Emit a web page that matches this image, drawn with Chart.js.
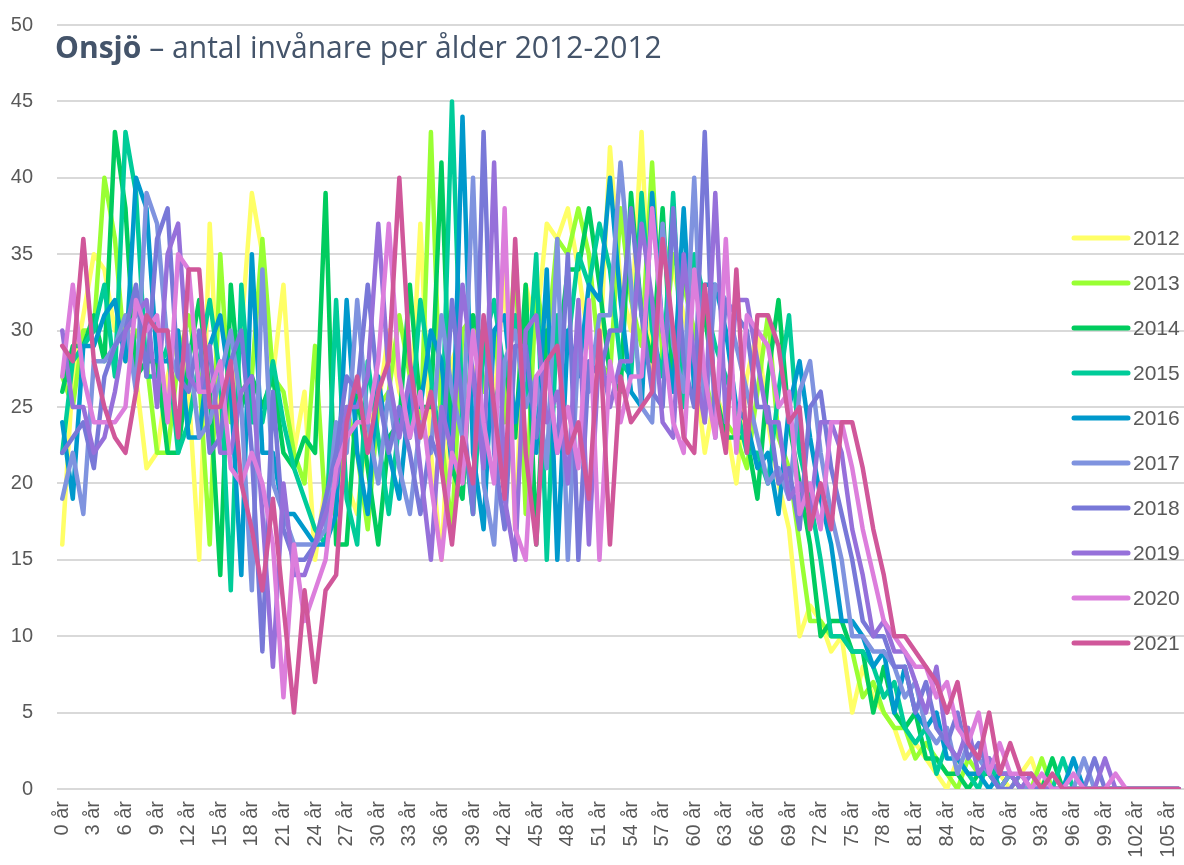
<!DOCTYPE html>
<html lang="sv">
<head>
<meta charset="utf-8">
<title>Onsjö – antal invånare per ålder</title>
<script src="https://cdn.jsdelivr.net/npm/chart.js@4.4.1/dist/chart.umd.min.js"></script>
<style>
    html, body { margin: 0; padding: 0; background: #ffffff; }
    #chartWrap { width: 1184px; height: 865px; }
    #populationChart { display: block; }
</style>
</head>
<body>
<div id="chartWrap"><canvas id="populationChart" width="1184" height="865"></canvas></div>
<script>
const years = ['2012', '2013', '2014', '2015', '2016', '2017', '2018', '2019', '2020', '2021'];
const lineColors = ['#FFFF66', '#99FF33', '#00CC5E', '#00CC99', '#0099CC', '#7F93DF', '#7878D8', '#9670DA', '#DC7EDC', '#D0579A'];
const ages = Array.from({ length: 107 }, (_, i) => i + ' år');
const yTicks = [0, 5, 10, 15, 20, 25, 30, 35, 40, 45, 50];

// antal invånare per ålder (0 år ... 106 år)
const pop2012 = [
    16, 27, 31, 35, 34, 30, 31, 27, 21, 22,
    27, 30, 26, 15, 37, 23, 25, 30, 39, 35,
    27, 33, 22, 26, 15, 20, 22, 20, 18, 24,
    25, 30, 26, 24, 37, 22, 15, 28, 30, 27,
    29, 25, 34, 17, 33, 30, 37, 36, 38, 34,
    29, 28, 42, 33, 30, 43, 27, 36, 34, 31,
    28, 22, 26, 24, 20, 27, 30, 24, 20, 17,
    10, 12, 11, 9, 10, 5, 8, 6, 5, 4,
    2, 3, 2, 1, 0, 2, 1, 1, 1, 1,
    0, 1, 2, 0, 0, 0, 0, 0, 0, 0,
    0, 0, 0, 0, 0, 0, 0
];
const pop2013 = [
    27, 25, 30, 30, 40, 36, 28, 30, 28, 22,
    22, 28, 31, 27, 16, 35, 24, 26, 27, 36,
    27, 26, 22, 20, 29, 18, 19, 25, 22, 17,
    25, 26, 31, 27, 23, 43, 23, 17, 30, 31,
    26, 30, 24, 35, 18, 33, 29, 36, 35, 38,
    35, 28, 27, 38, 32, 29, 41, 28, 35, 33,
    30, 27, 24, 24, 23, 21, 26, 31, 23, 21,
    16, 11, 11, 10, 10, 9, 6, 7, 5, 4,
    4, 2, 3, 2, 1, 0, 2, 1, 1, 0,
    1, 0, 0, 2, 0, 0, 0, 0, 0, 0,
    0, 0, 0, 0, 0, 0, 0
];
const pop2014 = [
    26, 29, 29, 31, 28, 43, 38, 27, 28, 28,
    22, 22, 28, 32, 26, 14, 33, 25, 27, 25,
    27, 22, 21, 23, 22, 39, 16, 16, 26, 21,
    16, 23, 24, 33, 25, 25, 41, 21, 19, 31,
    29, 25, 28, 23, 33, 16, 30, 28, 34, 34,
    38, 33, 27, 26, 39, 31, 28, 38, 26, 34,
    34, 31, 26, 23, 23, 23, 19, 27, 32, 24,
    20, 16, 10, 11, 11, 9, 9, 5, 8, 5,
    4, 5, 2, 2, 1, 1, 0, 1, 1, 0,
    1, 0, 0, 0, 2, 0, 0, 0, 0, 0,
    0, 0, 0, 0, 0, 0, 0
];
const pop2015 = [
    22, 28, 29, 30, 33, 27, 43, 39, 27, 27,
    29, 22, 24, 28, 32, 27, 13, 33, 24, 24,
    28, 24, 21, 19, 17, 16, 32, 19, 16, 28,
    23, 18, 24, 23, 32, 27, 22, 45, 24, 18,
    29, 32, 27, 31, 25, 35, 15, 31, 29, 35,
    33, 37, 34, 28, 27, 39, 30, 27, 39, 25,
    35, 32, 29, 27, 25, 22, 22, 20, 26, 31,
    22, 19, 15, 10, 10, 9, 9, 8, 6, 7,
    4, 3, 4, 1, 3, 2, 1, 0, 2, 0,
    1, 0, 0, 0, 0, 2, 0, 0, 0, 0,
    0, 0, 0, 0, 0, 0, 0
];
const pop2016 = [
    24, 19, 29, 29, 31, 32, 28, 40, 38, 28,
    28, 30, 23, 23, 29, 31, 26, 14, 35, 22,
    22, 18, 18, 17, 16, 16, 18, 32, 22, 18,
    27, 22, 19, 26, 25, 30, 28, 21, 44, 22,
    17, 30, 31, 24, 29, 22, 34, 15, 30, 27,
    33, 32, 40, 32, 26, 25, 39, 30, 26, 38,
    26, 33, 33, 30, 25, 24, 21, 22, 18, 25,
    28, 23, 19, 16, 11, 11, 10, 8, 9, 5,
    8, 5, 4, 5, 2, 2, 1, 1, 0, 1,
    1, 0, 0, 0, 0, 0, 2, 0, 0, 0,
    0, 0, 0, 0, 0, 0, 0
];
const pop2017 = [
    19, 22, 18, 28, 28, 29, 31, 26, 39, 37,
    29, 27, 29, 23, 24, 27, 30, 25, 13, 34,
    20, 18, 16, 16, 16, 17, 24, 22, 32, 24,
    20, 26, 21, 18, 24, 22, 31, 26, 23, 40,
    20, 16, 28, 30, 25, 27, 21, 36, 15, 29,
    26, 31, 31, 41, 33, 25, 24, 37, 29, 26,
    40, 24, 33, 32, 29, 26, 23, 20, 21, 19,
    26, 28, 22, 18, 15, 10, 10, 9, 9, 8,
    6, 7, 4, 3, 4, 1, 3, 2, 1, 0,
    1, 0, 0, 0, 0, 0, 0, 2, 0, 0,
    0, 0, 0, 0, 0, 0, 0
];
const pop2018 = [
    22, 23, 24, 21, 27, 29, 30, 33, 27, 36,
    38, 27, 26, 30, 22, 23, 28, 30, 22, 9,
    26, 17, 15, 15, 16, 19, 22, 27, 26, 33,
    26, 22, 25, 22, 18, 23, 21, 32, 25, 18,
    43, 22, 17, 29, 29, 23, 28, 22, 35, 15,
    28, 27, 30, 30, 38, 31, 26, 25, 38, 28,
    25, 43, 23, 32, 31, 30, 25, 25, 20, 21,
    17, 25, 26, 21, 18, 15, 11, 10, 10, 8,
    8, 5, 7, 4, 3, 5, 2, 3, 1, 0,
    0, 1, 0, 0, 0, 0, 0, 0, 2, 0,
    0, 0, 0, 0, 0, 0, 0
];
const pop2019 = [
    30, 25, 25, 22, 23, 26, 30, 31, 32, 25,
    35, 37, 27, 26, 29, 22, 22, 26, 27, 18,
    8, 20, 14, 14, 16, 18, 20, 25, 25, 27,
    37, 27, 23, 27, 21, 15, 25, 22, 33, 27,
    21, 41, 19, 15, 30, 31, 24, 26, 20, 32,
    16, 29, 25, 28, 28, 37, 32, 24, 23, 35,
    28, 24, 39, 24, 32, 32, 28, 24, 24, 19,
    20, 18, 24, 24, 22, 17, 14, 10, 11, 9,
    9, 7, 5, 8, 3, 2, 4, 1, 2, 1,
    1, 0, 1, 0, 0, 0, 0, 0, 0, 2,
    0, 0, 0, 0, 0, 0, 0
];
const pop2020 = [
    27, 33, 27, 24, 24, 24, 25, 32, 30, 31,
    24, 35, 34, 26, 26, 28, 21, 20, 22, 20,
    16, 6, 16, 11, 13, 15, 21, 23, 24, 24,
    28, 37, 27, 23, 26, 20, 15, 22, 20, 30,
    24, 20, 38, 17, 15, 27, 28, 22, 25, 21,
    32, 15, 28, 24, 27, 27, 38, 30, 24, 22,
    34, 27, 23, 36, 22, 31, 30, 29, 25, 26,
    18, 20, 17, 24, 24, 21, 17, 14, 11, 10,
    9, 8, 8, 6, 7, 4, 3, 5, 1, 3,
    1, 1, 0, 1, 0, 0, 1, 0, 0, 0,
    1, 0, 0, 0, 0, 0, 0
];
const pop2021 = [
    29, 28, 36, 28, 25, 23, 22, 26, 31, 30,
    30, 23, 34, 34, 25, 25, 28, 20, 17, 13,
    19, 12, 5, 13, 7, 13, 14, 24, 27, 22,
    26, 28, 40, 28, 23, 26, 21, 16, 23, 20,
    31, 25, 19, 36, 22, 16, 28, 29, 22, 24,
    19, 30, 16, 27, 24, 25, 26, 36, 30, 23,
    22, 33, 26, 22, 34, 22, 31, 31, 29, 24,
    25, 17, 20, 17, 24, 24, 21, 17, 14, 10,
    10, 9, 8, 7, 5, 7, 3, 2, 5, 1,
    3, 1, 1, 0, 1, 0, 0, 0, 0, 0,
    0, 0, 0, 0, 0, 0, 0
];

const series = [pop2012, pop2013, pop2014, pop2015, pop2016, pop2017, pop2018, pop2019, pop2020, pop2021];

const textGray = '#595959';
const gridGray = '#D9D9D9';

function buildDatasets() {
    return years.map((year, i) => ({
        label: year,
        data: series[i],
        borderColor: lineColors[i],
        backgroundColor: lineColors[i],
        borderWidth: 4.5,
        borderJoinStyle: 'round',
        borderCapStyle: 'round',
        pointRadius: 0,
        pointHoverRadius: 0,
        tension: 0,
        fill: false,
        // later years on top
        order: years.length - 1 - i,
    }));
}

function drawTitle(ctx) {
    const bold = 'Onsjö';
    const rest = ' – antal invånare per ålder 2012-2012';
    const targetWidth = 607;

    ctx.font = 'bold 30px "Open Sans"';
    const w1 = ctx.measureText(bold).width;
    ctx.font = '30px "Open Sans"';
    const w2 = ctx.measureText(rest).width;
    const size = 30 * targetWidth / (w1 + w2);

    ctx.fillStyle = '#44546A';
    ctx.textBaseline = 'alphabetic';
    ctx.textAlign = 'left';
    ctx.font = `bold ${size}px "Open Sans"`;
    ctx.fillText(bold, 55, 58);
    const boldWidth = ctx.measureText(bold).width;
    ctx.font = `${size}px "Open Sans"`;
    ctx.fillText(rest, 55 + boldWidth, 58);
}

function drawLegend(ctx) {
    years.forEach((year, i) => {
        const y = 238 + i * 45;
        ctx.strokeStyle = lineColors[i];
        ctx.lineWidth = 5;
        ctx.lineCap = 'round';
        ctx.beginPath();
        ctx.moveTo(1074, y);
        ctx.lineTo(1128, y);
        ctx.stroke();

        ctx.fillStyle = textGray;
        ctx.font = '21px "Liberation Sans"';
        ctx.textAlign = 'left';
        ctx.textBaseline = 'middle';
        ctx.fillText(year, 1133, y + 1);
    });
}

const overlayPlugin = {
    id: 'overlay',
    afterDraw(chart) {
        const ctx = chart.ctx;
        ctx.save();
        drawTitle(ctx);
        drawLegend(ctx);
        ctx.restore();
    }
};

const canvas = document.getElementById('populationChart');

const config = {
    type: 'line',
    data: {
        labels: ages,
        datasets: buildDatasets(),
    },
    options: {
        responsive: false,
        animation: false,
        devicePixelRatio: 1,
        layout: {
            padding: { top: 25, right: 0, bottom: 0, left: 0 }
        },
        plugins: {
            legend: { display: false },
            title: { display: false },
            tooltip: { enabled: false }
        },
        scales: {
            x: {
                offset: true,
                grid: { display: false, drawTicks: false },
                border: { display: false },
                ticks: {
                    autoSkip: false,
                    minRotation: 90,
                    maxRotation: 90,
                    padding: 12,
                    color: textGray,
                    font: { family: '"Liberation Sans"', size: 20 },
                    callback: function (value, index) {
                        return index % 3 === 0 ? this.getLabelForValue(value) : '';
                    }
                },
                afterFit(scale) {
                    scale.height = 76;
                    scale.paddingLeft = 0;
                    scale.paddingRight = 0;
                }
            },
            y: {
                min: yTicks[0],
                max: yTicks[yTicks.length - 1],
                grid: { color: gridGray, lineWidth: 2, drawTicks: false },
                border: { display: false },
                afterBuildTicks(scale) {
                    scale.ticks = yTicks.map(v => ({ value: v }));
                },
                ticks: {
                    padding: 24,
                    color: textGray,
                    font: { family: '"Liberation Sans"', size: 20 }
                },
                afterFit(scale) {
                    scale.width = 57;
                    scale.paddingTop = 0;
                    scale.paddingBottom = 0;
                }
            }
        }
    },
    plugins: [overlayPlugin]
};

const chart = new Chart(canvas, config);
</script>
</body>
</html>
